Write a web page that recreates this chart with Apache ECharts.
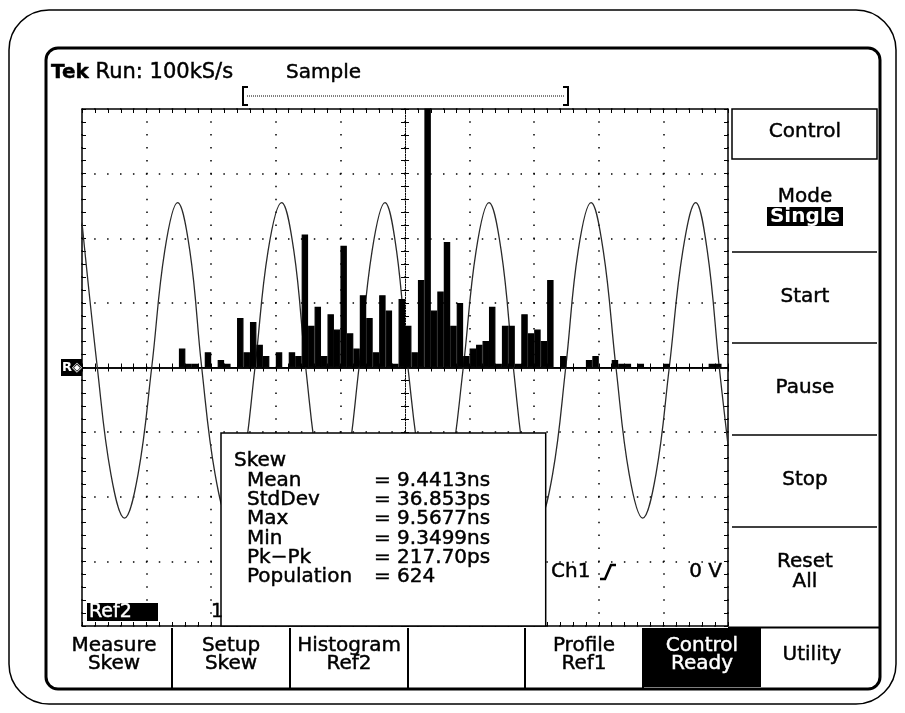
<!DOCTYPE html>
<html><head><meta charset="utf-8">
<script src="https://cdn.jsdelivr.net/npm/echarts/dist/echarts.min.js"></script>
<style>html,body{margin:0;padding:0;background:#fff}#c{width:905px;height:713px}</style>
</head><body><div id="c"></div>
<script>
const FONT = '"DejaVu Sans", "Liberation Sans", sans-serif';

// Ref1 waveform: time in divisions from centre, amplitude in divisions
const waveX = [-5.00,-4.763,-4.553,-4.342,-4.132,-3.921,-3.72,-3.52,-3.33,-3.147,-2.94,-2.735,-2.528,-2.322,-2.12,-1.91,-1.72,-1.537,-1.33,-1.125,-0.918,-0.712,-0.51,-0.31,-0.13,0.046,0.26,0.474,0.688,0.902,1.10,1.30,1.49,1.677,1.88,2.082,2.285,2.488,2.68,2.88,3.07,3.266,3.47,3.679,3.885,4.091,4.30,4.50,4.68,4.865,5.00];
const waveY = [2.24,0,-1.65,-2.33,-1.65,0,1.80,2.55,1.80,0,-1.65,-2.33,-1.65,0,1.80,2.55,1.80,0,-1.65,-2.33,-1.65,0,1.80,2.55,1.80,0,-1.65,-2.33,-1.65,0,1.80,2.55,1.80,0,-1.65,-2.33,-1.65,0,1.80,2.55,1.80,0,-1.65,-2.33,-1.65,0,1.80,2.55,1.80,0,-1.20];

// Ref2 skew histogram: bin centres (divisions from centre) and counts
const histBins = ['-3.45','-3.35','-3.25','-3.15','-3.05','-2.95','-2.85','-2.75','-2.65','-2.55','-2.45','-2.35','-2.25','-2.15','-2.05','-1.95','-1.85','-1.75','-1.65','-1.55','-1.45','-1.35','-1.25','-1.15','-1.05','-0.95','-0.85','-0.75','-0.65','-0.55','-0.45','-0.35','-0.25','-0.15','-0.05','0.05','0.15','0.25','0.35','0.45','0.55','0.65','0.75','0.85','0.95','1.05','1.15','1.25','1.35','1.45','1.55','1.65','1.75','1.85','1.95','2.05','2.15','2.25','2.35','2.45','2.55','2.65','2.75','2.85','2.95','3.05','3.15','3.25','3.35','3.45','3.55','3.65','3.75','3.85','3.95','4.05','4.15','4.25','4.35','4.45','4.55','4.65','4.75','4.85'];
const histCounts = [5,1,1,0,4,0,2,1,0,13,4,12,6,3,0,4,0,4,3,35,11,16,3,14,10,32,9,5,19,13,4,19,15,1,18,11,4,23,70,15,20,33,11,17,3,5,6,7,16,1,11,11,1,14,9,10,7,23,0,3,0,0,0,2,3,0,0,2,1,1,0,1,0,0,0,1,0,0,0,0,0,0,1,1];

const statTitle = 'Skew';
const statLabels = ['Mean','StdDev','Max','Min','Pk\u2212Pk','Population'];
const statValues = ['= 9.4413ns','= 36.853ps','= 9.5677ns','= 9.3499ns','= 217.70ps','= 624'];
const sideMenu = [['Control',132],['Mode',197],['Start',297],['Pause',388],['Stop',480],['Reset',562],['All',582]];
const bottomMenu = [['Measure','Skew',114],['Setup','Skew',231],['Histogram','Ref2',349],['','',466],['Profile','Ref1',584],['Control','Ready',702]];

// graticule geometry: 10 x 8 divisions, 64.6 px each
const G = {left:82, top:109, width:646, height:517};
const DIV = G.width / 10;
const histStart = -3.5;          // left edge of first bin, divisions from centre
const binW = 0.1;                // bin width, divisions

const chart = echarts.init(document.getElementById('c'), null, {renderer:'canvas'});

const dotted = {color:'#000', width:1.5, type:[1.5, 11.42], dashOffset:0.75};
function edgeAxis(pos, min, max, split){
  return {type:'value', min:min, max:max, interval:1, position:pos,
    axisLine:{show:false, onZero:false},
    axisTick:{show:true, inside:true, length:4, lineStyle:{color:'#000', width:1}},
    minorTick:{show:true, splitNumber:5, length:4, lineStyle:{color:'#000', width:1}},
    splitLine:{show:split, lineStyle:dotted}, minorSplitLine:{show:false},
    axisLabel:{show:false}};
}
function centreAxis(pos, min, max, lineType){
  return {type:'value', min:min, max:max, interval:1, position:pos,
    axisLine:{show:true, onZero:true, onZeroAxisIndex:0, lineStyle:{color:'#000', width:lineType==='solid'?1.5:1, type:lineType}},
    axisTick:{show:true, inside:false, length:4, lineStyle:{color:'#000', width:1}},
    minorTick:{show:true, splitNumber:5, length:4, lineStyle:{color:'#000', width:1}},
    splitLine:{show:false}, axisLabel:{show:false}};
}

function txt(x, y, text, opt){
  opt = opt || {};
  const size = opt.size || 20;
  const weight = opt.weight || 'normal';
  const fill = opt.fill || '#000';
  return {type:'text', x:x, y:y, z: opt.z || 60,
    style:{text:text, font: weight + ' ' + size + 'px ' + FONT, fontSize:size, fontWeight:weight, fontFamily:FONT,
      fill: fill, stroke: fill, lineWidth: opt.sw === undefined ? 0.45 : opt.sw,
      align: opt.align || 'left', verticalAlign:'middle',
      textAlign: opt.align || 'left', textVerticalAlign:'middle', rich: opt.rich}};
}
function line(x1,y1,x2,y2,w,z){ return {type:'line', shape:{x1:x1,y1:y1,x2:x2,y2:y2}, z:z||60, style:{stroke:'#000', lineWidth:w||1.5}}; }

const g = [];
// bezel frames
g.push({type:'rect', shape:{x:9,y:10,width:887,height:694,r:40}, z:1, style:{fill:'none', stroke:'#000', lineWidth:1.5}});
g.push({type:'rect', shape:{x:46,y:48,width:834,height:641,r:12}, z:1, style:{fill:'none', stroke:'#000', lineWidth:3}});
// status line
g.push(txt(51, 73, '{b|Tek} Run: 100kS/s', {size:21, rich:{b:{fontWeight:'bold', fontSize:20, fontFamily:FONT}}}));
g.push(txt(286, 73, 'Sample'));
// record-view bracket
g.push({type:'polyline', shape:{points:[[248,87],[243,87],[243,105],[248,105]]}, z:60, style:{fill:'none', stroke:'#000', lineWidth:2}});
g.push({type:'polyline', shape:{points:[[563,87],[568,87],[568,105],[563,105]]}, z:60, style:{fill:'none', stroke:'#000', lineWidth:2}});
g.push({type:'line', shape:{x1:247,y1:96,x2:564,y2:96}, z:60, style:{stroke:'#000', lineWidth:1, lineDash:[1,1]}});
// ground reference marker
g.push({type:'rect', shape:{x:61,y:359,width:21,height:17}, z:60, style:{fill:'#000'}});
g.push(txt(62, 368, 'R\u25C8', {size:13, weight:'bold', fill:'#fff', sw:0}));
// Ref2 readout
g.push({type:'rect', shape:{x:87,y:603,width:71,height:18}, z:60, style:{fill:'#000'}});
g.push(txt(89, 612, 'Ref2', {fill:'#fff', size:19}));
g.push(txt(211, 612, '1', {size:19}));
// trigger readout
g.push(txt(551, 572, 'Ch1'));
g.push({type:'polyline', shape:{points:[[600,579],[605,579],[611,565],[616,565]]}, z:60, style:{fill:'none', stroke:'#000', lineWidth:2.5}});
g.push(txt(722, 572, '0 V', {align:'right'}));
// measurement box
g.push({type:'rect', shape:{x:221,y:433,width:324.7,height:193}, z:50, style:{fill:'#fff', stroke:'#000', lineWidth:1.5}});
g.push(txt(234, 461, statTitle));
statLabels.forEach((s,i)=>{ g.push(txt(247, 480.5 + i*19.3, s)); g.push(txt(374, 480.5 + i*19.3, statValues[i])); });
// side menu
g.push({type:'rect', shape:{x:732,y:109,width:145,height:50}, z:60, style:{fill:'none', stroke:'#000', lineWidth:1.5}});
[252,343,435,527].forEach(y=>g.push(line(732,y,877,y,1.5)));
g.push(line(728,627.5,880,627.5,2));
g.push({type:'rect', shape:{x:767,y:207,width:76,height:19}, z:60, style:{fill:'#000'}});
sideMenu.forEach(m=>g.push(txt(805, m[1], m[0], {align:'center'})));
g.push(txt(805, 216.5, 'Single', {align:'center', weight:'bold', fill:'#fff', sw:0}));
// bottom menu
g.push({type:'rect', shape:{x:643,y:628,width:118,height:59}, z:59, style:{fill:'#000'}});
[172,290,408,525,643].forEach(x=>g.push(line(x,628,x,688,2)));
bottomMenu.forEach((m,i)=>{
  const fill = i===5 ? '#fff' : '#000';
  g.push(txt(m[2], 646, m[0], {align:'center', fill:fill}));
  g.push(txt(m[2], 664, m[1], {align:'center', fill:fill}));
});
g.push(txt(812, 655, 'Utility', {align:'center'}));

chart.setOption({
  animation:false,
  backgroundColor:'#fff',
  grid:[
    {left:G.left, top:G.top, width:G.width, height:G.height, show:true, borderColor:'#000', borderWidth:1.5, backgroundColor:'transparent'},
    // histogram band: same vertical extent, horizontally covering the bins
    {left:G.left + (histStart + 5) * DIV, top:G.top, width:histBins.length * binW * DIV, height:G.height, show:false}
  ],
  xAxis:[
    edgeAxis('bottom', -5, 5, true),
    edgeAxis('top', -5, 5, false),
    centreAxis('bottom', -5, 5, 'solid'),
    centreAxis('top', -5, 5, 'solid'),
    {type:'category', gridIndex:1, data:histBins, boundaryGap:true, show:false}
  ],
  yAxis:[
    edgeAxis('left', -4, 4, true),
    edgeAxis('right', -4, 4, false),
    {type:'value', gridIndex:1, min:-68, max:68, show:false, axisLine:{onZero:false}, splitLine:{show:false}},
    centreAxis('left', -4, 4, [1,1.6]),
    centreAxis('right', -4, 4, [1,1.6])
  ],
  series:[
    {type:'line', name:'Ref1', xAxisIndex:0, yAxisIndex:0, data: waveX.map((x,i)=>[x, waveY[i]]),
      showSymbol:false, smooth:0.4, lineStyle:{color:'#2a2a2a', width:1.3}, z:2, silent:true},
    {type:'bar', name:'Ref2', xAxisIndex:4, yAxisIndex:2, data: histCounts,
      barWidth:'100%', barCategoryGap:'0%', barGap:'0%', itemStyle:{color:'#000', borderColor:'#000', borderWidth:1.2}, z:3, silent:true}
  ],
  graphic:{elements:g}
});
</script></body></html>
